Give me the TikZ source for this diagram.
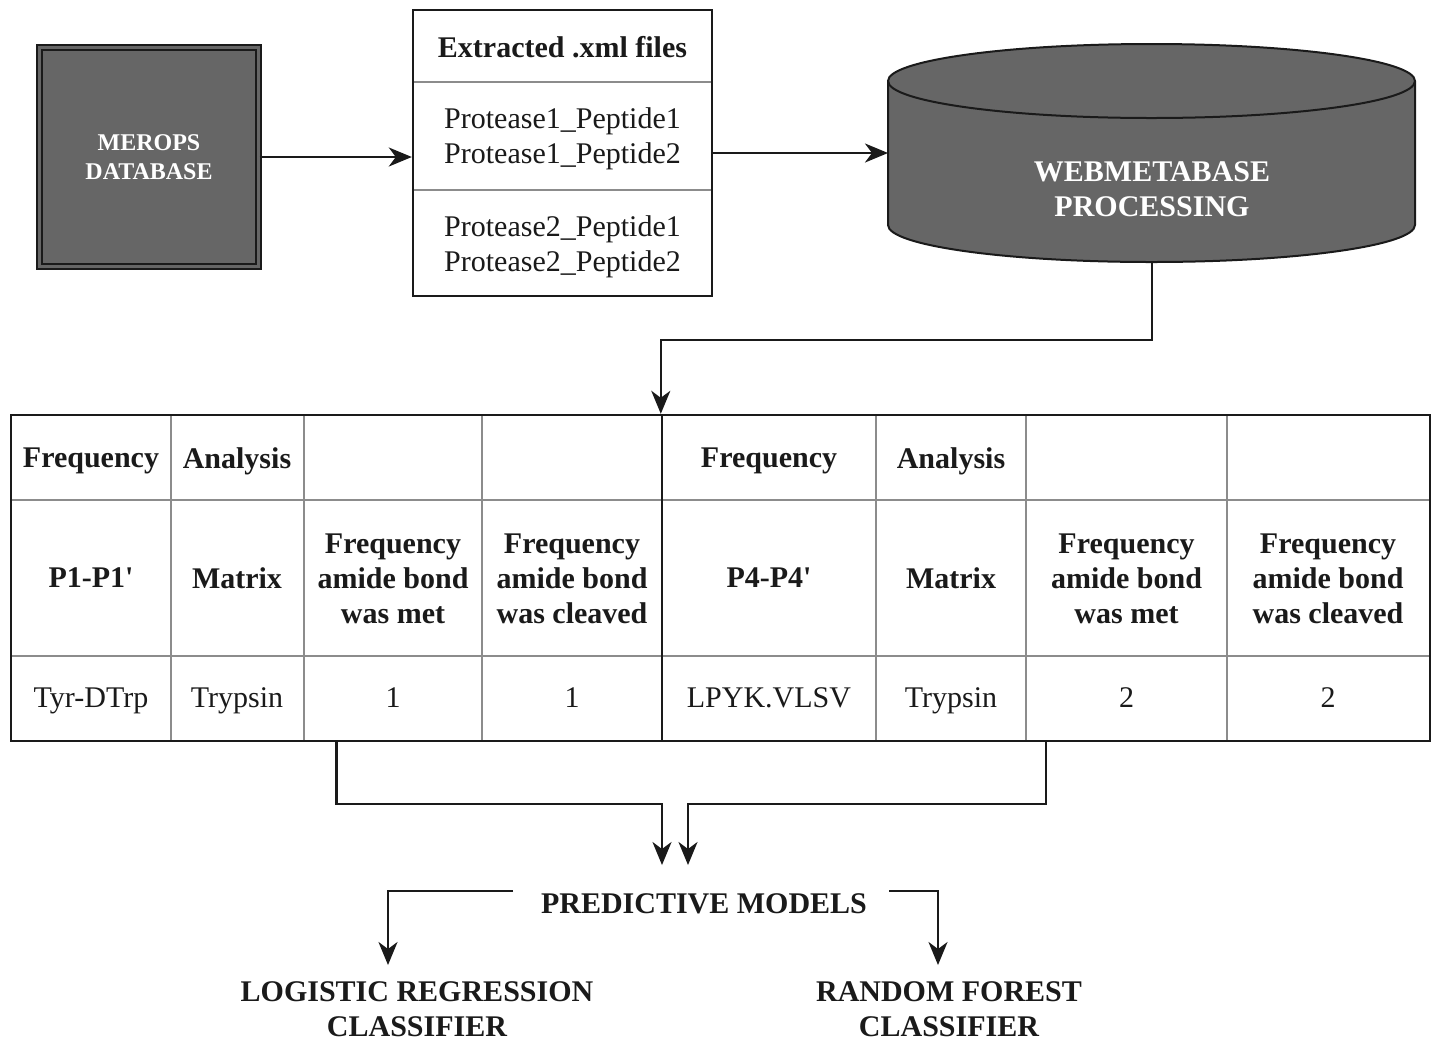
\documentclass[tikz,border=0pt]{standalone}
\usepackage{fontspec}
\setmainfont{Liberation Serif}[Ligatures=TeXOff]
\usetikzlibrary{arrows.meta}
\definecolor{boxgray}{HTML}{666666}
\definecolor{gridgray}{HTML}{8C8C8C}
\definecolor{inkblack}{HTML}{1A1A1A}
\begin{document}
\begin{tikzpicture}[x=0.5pt,y=-0.5pt,
  arr/.style={line width=1.2pt, draw=inkblack, -{Stealth[length=11.5pt,width=9.5pt,inset=3.5pt]}},
  txt/.style={font=\fontsize{15}{17.5}\selectfont, align=center, inner sep=0pt, text=inkblack},
  btxt/.style={font=\fontsize{15}{17.5}\selectfont\bfseries, align=center, inner sep=0pt, text=inkblack},
  wtxt/.style={font=\fontsize{15}{17.5}\selectfont\bfseries, align=center, inner sep=0pt, text=white},
  gridline/.style={draw=gridgray, line width=1pt},
  frame/.style={draw=inkblack, line width=1.2pt, inner sep=0pt}
]
\useasboundingbox[fill=white] (0,0) rectangle (1434,1040);

% MEROPS database box
\node[draw=inkblack, line width=1pt, double=boxgray, double distance=1.5pt, fill=boxgray,
      minimum width=109.5pt, minimum height=109.5pt, inner sep=0pt,
      font=\fontsize{12}{14.5}\selectfont\bfseries, text=white, align=center] (merops) at (149,157) {MEROPS\\DATABASE};

% Extracted xml files box
\draw[gridline] (412,82) -- (713,82);
\draw[gridline] (412,190) -- (713,190);
\node[frame, minimum width=149.5pt, minimum height=143pt] (xml) at (562.5,153) {};
\node[btxt] (xmltitle) at (562.5,47) {Extracted .xml files};
\node[txt] (xmlA) at (562.5,138.5) {Protease1\_Peptide1\\Protease1\_Peptide2};
\node[txt] (xmlB) at (562.5,246.5) {Protease2\_Peptide1\\Protease2\_Peptide2};

% Cylinder
\path[fill=boxgray, draw=inkblack, line width=1pt]
  (888,81) -- (888,225) arc (180:360:131.75pt and 18.5pt) -- (1415,81) arc (0:180:131.75pt and 18.5pt) -- cycle;
\draw[inkblack, line width=1pt] (888,81) arc (180:360:131.75pt and 18.5pt);
\node[wtxt] (web) at (1152,189.5) {WEBMETABASE\\PROCESSING};
\coordinate (webW) at (888,155);
\coordinate (webS) at (1152,262);

% top connectors
\draw[arr] (merops.east) -- (merops.east -| xml.west);
\draw[arr] (xml.east) -- (xml.east -| webW);

% Table grid
\foreach \yy in {500,656} \draw[gridline] (11,\yy) -- (1430,\yy);
\foreach \xx in {171,304,482,876,1026,1227} \draw[gridline] (\xx,415) -- (\xx,741);
\node[frame, minimum width=325.5pt, minimum height=163pt] (tabL) at (336.5,578) {};
\node[frame, minimum width=384pt, minimum height=163pt] (tabR) at (1046,578) {};

\draw[arr] (webS) -- ++(0,78) -| (tabR.north west);

% Table texts
\node[btxt] (h1) at (91,461) {Frequency};
\node[btxt] (h2) at (237,461) {Analysis};
\node[btxt] (h5) at (769,461) {Frequency};
\node[btxt] (h6) at (951,461) {Analysis};

\node[btxt] (m1) at (91,578) {P1-P1'};
\node[btxt] (m2) at (237,578) {Matrix};
\node[btxt] (m3) at (393,579) {Frequency\\amide bond\\was met};
\node[btxt] (m4) at (572,579) {Frequency\\amide bond\\was cleaved};
\node[btxt] (m5) at (769,578) {P4-P4'};
\node[btxt] (m6) at (951,578) {Matrix};
\node[btxt] (m7) at (1126.5,579) {Frequency\\amide bond\\was met};
\node[btxt] (m8) at (1328,579) {Frequency\\amide bond\\was cleaved};

\node[txt] (d1) at (91,701) {Tyr-DTrp};
\node[txt] (d2) at (237,701) {Trypsin};
\node[txt] (d3) at (393,698) {1};
\node[txt] (d4) at (572,698) {1};
\node[txt] (d5) at (769,698) {LPYK.VLSV};
\node[txt] (d6) at (951,701) {Trypsin};
\node[txt] (d7) at (1126.5,698) {2};
\node[txt] (d8) at (1328,698) {2};

% bottom connectors
\coordinate (in1) at (662,865);
\coordinate (in2) at (688,865);
\draw[arr] (tabL.south) -- ++(0,62) -| (in1);
\draw[arr] (tabR.south) -- ++(0,62) -| (in2);

\node[btxt] (pm) at (704,904) {PREDICTIVE MODELS};
\coordinate (pmL) at (513,891);
\coordinate (pmR) at (889,891);
\node[btxt] (lr) at (417,1009) {LOGISTIC REGRESSION\\CLASSIFIER};
\node[btxt] (rf) at (949,1009) {RANDOM FOREST\\CLASSIFIER};
\coordinate (lrIn) at (388,965);
\coordinate (rfIn) at (938,965);
\draw[arr] (pmL) -| (lrIn);
\draw[arr] (pmR) -| (rfIn);
\end{tikzpicture}
\end{document}
